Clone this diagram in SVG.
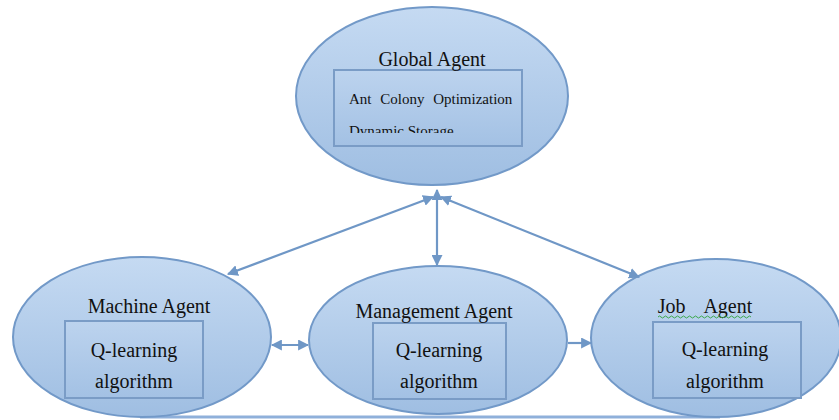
<svg xmlns="http://www.w3.org/2000/svg" width="839" height="420" viewBox="0 0 839 420">
<style>
.node ellipse{fill:url(#gE);stroke:#7299c8;stroke-width:2}
.node rect{fill:url(#gR);stroke:#7a9cc6;stroke-width:2}
text{font-family:"Liberation Serif","Times New Roman",serif;fill:#111}
.t{font-size:20px;text-anchor:middle}
.s{font-size:15px}
.c line{stroke:#6f97c6;stroke-width:2.2;fill:none}
</style>
<defs>
<linearGradient id="gE" x1="0" y1="0" x2="0" y2="1">
<stop offset="0" stop-color="#c5daf2"/>
<stop offset="1" stop-color="#9fbee2"/>
</linearGradient>
<linearGradient id="gR" x1="0" y1="0" x2="0" y2="1">
<stop offset="0" stop-color="#bcd3ee"/>
<stop offset="1" stop-color="#a3c1e4"/>
</linearGradient>
<marker id="ah" viewBox="0 0 10 10" refX="9" refY="5" markerWidth="5" markerHeight="5" orient="auto-start-reverse" markerUnits="strokeWidth">
<path d="M0,0 L10,5 L0,10 Z" fill="#6f97c6"/>
</marker>
<clipPath id="clipG"><rect x="334" y="70" width="188" height="63"/></clipPath>
</defs>
<g class="c" id="connectors">
<line x1="140" y1="417" x2="720" y2="417" style="stroke:#8fb0da;stroke-width:3"/>
</g>
<g class="node" id="global">
<ellipse cx="432" cy="96" rx="136" ry="89"/>
<rect x="334" y="70" width="188" height="76"/>
<text class="t" x="432" y="66">Global Agent</text>
<text class="s" x="349" y="104" word-spacing="5">Ant Colony Optimization</text>
<text class="s" x="349" y="136" clip-path="url(#clipG)">Dynamic Storage</text>
</g>
<g class="node" id="machine">
<ellipse cx="142" cy="337" rx="129" ry="80"/>
<rect x="65" y="321" width="138" height="77"/>
<text class="t" x="149" y="313">Machine Agent</text>
<text class="t" x="134" y="357">Q-learning</text>
<text class="t" x="134" y="388">algorithm</text>
</g>
<g class="node" id="management">
<ellipse cx="438" cy="340" rx="129" ry="74"/>
<rect x="373" y="323" width="133" height="76"/>
<text class="t" x="434" y="318">Management Agent</text>
<text class="t" x="439" y="357">Q-learning</text>
<text class="t" x="439" y="388">algorithm</text>
</g>
<g class="node" id="job">
<ellipse cx="716" cy="338" rx="125" ry="79"/>
<rect x="653" y="322" width="148" height="76"/>
<text class="t" x="705" y="313" word-spacing="14">Job Agent</text>
<path d="M658,317 q1.5,-2 3,0 t3,0 t3,0 t3,0 t3,0 t3,0 t3,0 t3,0 t3,0 t3,0 t3,0 t3,0 t3,0 t3,0 t3,0 t3,0 t3,0 t3,0 t3,0 t3,0 t3,0 t3,0 t3,0 t3,0 t3,0 t3,0 t3,0 t3,0 t3,0 t3,0 t3,0" fill="none" stroke="#3aa84a" stroke-width="1"/>
<text class="t" x="725" y="356">Q-learning</text>
<text class="t" x="725" y="388">algorithm</text>
</g>
<g class="c" id="arrows">
<line x1="433" y1="197" x2="228" y2="274" marker-start="url(#ah)" marker-end="url(#ah)"/>
<line x1="437" y1="190" x2="437" y2="265" marker-start="url(#ah)" marker-end="url(#ah)"/>
<line x1="441" y1="197" x2="639" y2="277" marker-start="url(#ah)" marker-end="url(#ah)"/>
<line x1="272" y1="345" x2="308" y2="345" marker-start="url(#ah)" marker-end="url(#ah)"/>
<line x1="568" y1="343" x2="591" y2="343" marker-end="url(#ah)"/>
</g>
</svg>
